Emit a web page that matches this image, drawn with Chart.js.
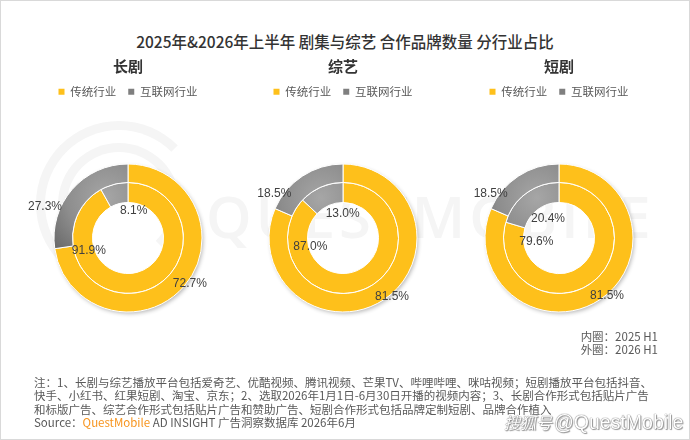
<!DOCTYPE html>
<html>
<head>
<meta charset="utf-8">
<script src="https://cdn.jsdelivr.net/npm/chart.js@4.4.1/dist/chart.umd.min.js"></script>
<style>
html, body { margin:0; padding:0; background:#fff; }
#page { position:relative; width:690px; height:440px; box-sizing:border-box; border:1px solid #d9d9d9; overflow:hidden; background:#fff; font-family:"Noto Sans CJK SC","Noto Sans",sans-serif; }
#title { position:absolute; left:0; top:29px; width:100%; text-align:center; font-size:15.5px; font-weight:500; color:#333; line-height:22px; white-space:nowrap; }
.wm-text { position:absolute; left:205px; top:180px; font-family:"Open Sans",sans-serif; font-weight:600; font-size:58px; letter-spacing:4px; color:#f5f5f5; line-height:70px; }
.wm-ring { position:absolute; border-radius:50%; border-style:solid; border-color:#f5f5f5; box-sizing:border-box; }
.panel { position:absolute; top:50px; }
#rings { position:absolute; right:31px; top:329px; text-align:right; font-size:11.5px; line-height:13px; color:#595959; white-space:nowrap; }
#notes { position:absolute; left:33px; top:375px; font-size:11.5px; line-height:13.4px; color:#595959; white-space:nowrap; }
#notes .qm { color:#f7941d; }
#stamp { position:absolute; left:503px; top:409px; font-family:"Liberation Sans",Arial,sans-serif; font-size:19.5px; color:#fff; white-space:nowrap;
  text-shadow: 0 0 1px #777, 0 0 1px #777, 1px 1px 1px #999; }
#stamp i { font-family:"Noto Sans CJK SC",sans-serif; font-size:16px; margin-right:2px; }
</style>
</head>
<body>
<div id="page">
  <div class="wm-ring" style="left:35px;top:120px;width:166px;height:166px;border-width:9px;border-right-color:transparent;"></div>
  <div class="wm-ring" style="left:57px;top:142px;width:122px;height:122px;border-width:9px;border-bottom-color:transparent;"></div>
  <div class="wm-text">QUESTMOBILE</div>
  <div id="title">2025年&amp;2026年上半年 剧集与综艺 合作品牌数量 分行业占比</div>
  <div class="panel" id="p0"><canvas id="c0" width="216" height="330"></canvas></div>
  <div class="panel" id="p1"><canvas id="c1" width="216" height="330"></canvas></div>
  <div class="panel" id="p2"><canvas id="c2" width="216" height="330"></canvas></div>
  <div id="rings">内圈：2025 H1<br>外圈：2026 H1</div>
  <div id="notes">注：1、长剧与综艺播放平台包括爱奇艺、优酷视频、腾讯视频、芒果TV、哔哩哔哩、咪咕视频；短剧播放平台包括抖音、<br>快手、小红书、红果短剧、淘宝、京东；2、选取2026年1月1日-6月30日开播的视频内容；3、长剧合作形式包括贴片广告<br>和标版广告、综艺合作形式包括贴片广告和赞助广告、短剧合作形式包括品牌定制短剧、品牌合作植入<br>Source：<span class="qm">QuestMobile</span> AD INSIGHT 广告洞察数据库 2026年6月</div>
  <div id="stamp"><i>搜狐号</i>@QuestMobile</div>
</div>
<script>
// panels and categories
const panels = ['长剧', '综艺', '短剧']
const industries = ['传统行业', '互联网行业']
// outer ring = 2026 H1, inner ring = 2025 H1 (percent)
const outer2026Trad = [72.7, 81.5, 81.5]
const outer2026Net = [27.3, 18.5, 18.5]
const inner2025Trad = [91.9, 87.0, 79.6]
const inner2025Net = [8.1, 13.0, 20.4]

const YELLOW = '#fec01b'
const GRAY = '#7f7f7f'
const RING_R = 74
const centersX = [127, 342, 558]
const CJK = '"Noto Sans CJK SC", "Noto Sans", sans-serif'

// where the value labels sit: [angle deg, distance px] from the ring centre, per ring per slice
const labelSpots = [
  [[[36.6, 77], [200.5, 88.6]], [[162.6, 41], [-78, 27.6]]],
  [[[50.3, 76.7], [212.8, 81.7]], [[164.6, 33.9], [-90.7, 24.3]]],
  [[[50.4, 75.3], [213, 81.5]], [[170, 23], [-119.7, 22.2]]]
]

function sliceFill(c) {
  if (c.dataIndex === 0) return YELLOW
  const chart = c.chart, a = chart.chartArea
  if (!a) return GRAY
  const cx = (a.left + a.right) / 2, cy = (a.top + a.bottom) / 2
  const g = chart.ctx.createRadialGradient(cx - 22, cy - 40, 0, cx - 22, cy - 40, 72)
  g.addColorStop(0, '#a6a6a6')
  g.addColorStop(0.55, '#8d8d8d')
  g.addColorStop(1, '#686868')
  return g
}

const ringShadow = {
  id: 'ringShadow',
  beforeDatasetsDraw(chart) {
    const outer = chart.getDatasetMeta(0).data[0]
    const inner = chart.getDatasetMeta(1).data[0]
    if (!outer || !inner) return
    const ctx = chart.ctx
    ctx.save()
    ctx.shadowColor = 'rgba(0,0,0,0.3)'
    ctx.shadowBlur = 4
    ctx.shadowOffsetX = 1.5
    ctx.shadowOffsetY = 2
    ctx.fillStyle = '#fff'
    ctx.beginPath(); ctx.arc(outer.x, outer.y, outer.outerRadius - 0.5, 0, Math.PI * 2); ctx.fill()
    ctx.restore()
    ctx.save()
    ctx.globalCompositeOperation = 'destination-out'
    ctx.beginPath(); ctx.arc(inner.x, inner.y, inner.innerRadius, 0, Math.PI * 2); ctx.fill()
    ctx.restore()
  }
}

const ringLabels = {
  id: 'ringLabels',
  afterDatasetsDraw(chart, args, opts) {
    const ctx = chart.ctx
    ctx.save()
    ctx.font = '12px "Liberation Sans", Arial, sans-serif'
    ctx.fillStyle = '#404040'
    ctx.textAlign = 'center'
    ctx.textBaseline = 'middle'
    chart.data.datasets.forEach((ds, d) => {
      chart.getDatasetMeta(d).data.forEach((arc, i) => {
        const [deg, dist] = opts.spots[d][i]
        const t = deg * Math.PI / 180
        ctx.fillText(ds.data[i].toFixed(1) + '%', arc.x + Math.cos(t) * dist, arc.y + Math.sin(t) * dist)
      })
    })
    ctx.restore()
  }
}

function makeChart(k) {
  const holder = document.getElementById('p' + k)
  holder.style.left = (centersX[k] - 108) + 'px'
  return new Chart(document.getElementById('c' + k), {
    type: 'doughnut',
    data: {
      labels: industries,
      datasets: [
        { label: '2026 H1', data: [outer2026Trad[k], outer2026Net[k]], weight: 18.5,
          backgroundColor: sliceFill, borderColor: '#fff', borderWidth: 1 },
        { label: '2025 H1', data: [inner2025Trad[k], inner2025Net[k]], weight: 20,
          backgroundColor: sliceFill, borderColor: '#fff', borderWidth: 1 }
      ]
    },
    options: {
      responsive: false,
      animation: false,
      events: [],
      radius: RING_R,
      cutout: '48%',
      hoverOffset: 0,
      layout: { padding: { bottom: 12.5 } },
      plugins: {
        title: { display: true, text: panels[k], color: '#333',
          font: { family: CJK, size: 15, weight: 'bold', lineHeight: 1 }, padding: { top: 8, bottom: 0 } },
        legend: { display: true, position: 'top',
          labels: { boxWidth: 6, boxHeight: 6, padding: 12, color: '#595959',
            font: { family: CJK, size: 11.5 },
            generateLabels: () => industries.map((name, i) => ({ text: name, fillStyle: i ? GRAY : YELLOW,
              strokeStyle: i ? GRAY : YELLOW, lineWidth: 0, hidden: false, index: i, fontColor: '#595959' })) } },
        tooltip: { enabled: false },
        ringLabels: { spots: labelSpots[k] }
      }
    },
    plugins: [ringShadow, ringLabels]
  })
}

document.addEventListener('DOMContentLoaded', () => {
  try { panels.forEach((p, k) => makeChart(k)) } catch (e) { console.error('Chart init error:', e) }
})
</script>
</body>
</html>
